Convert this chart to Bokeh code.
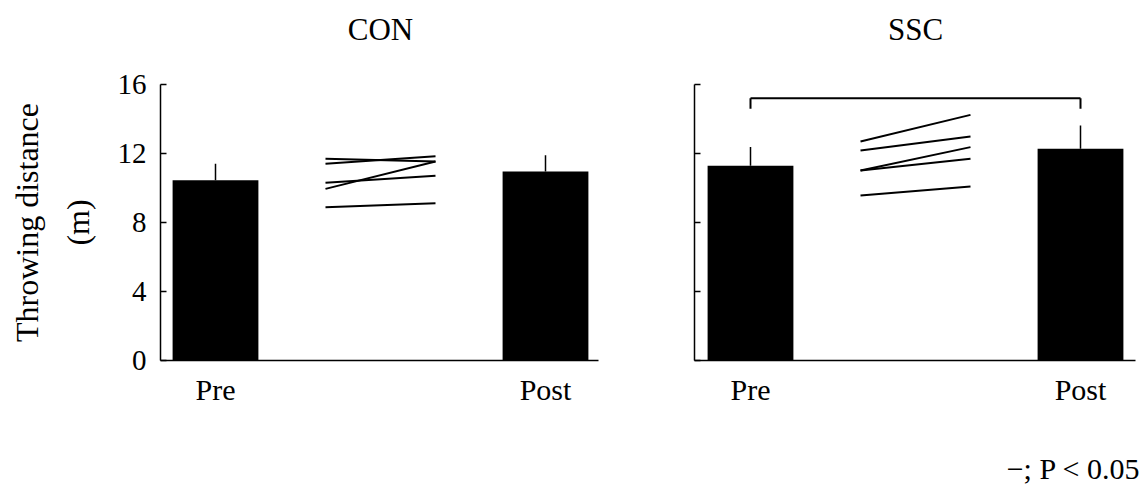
import math
from bokeh.plotting import figure
from bokeh.layouts import row
from bokeh.models import LinearAxis, FixedTicker, Label, Range1d
from bokeh.embed import file_html
from bokeh.resources import INLINE

# Throwing distance (m) before and after training, two groups
phases = ["Pre", "Post"]
groups = ["CON", "SSC"]

# individual subjects (pre -> post)
con_pre = [11.69, 11.40, 10.30, 9.95, 8.89]
con_post = [11.54, 11.84, 10.71, 11.54, 9.12]
ssc_pre = [12.70, 12.17, 11.01, 11.01, 9.57]
ssc_post = [14.24, 12.99, 12.37, 11.69, 10.09]

# group means and SD
con_mean = [10.45, 10.95]
con_sd = [0.95, 0.95]
ssc_mean = [11.29, 12.28]
ssc_sd = [1.08, 1.34]

y_ticks = [0, 4, 8, 12, 16]
y_caption = ["Throwing distance", "(m)"]
sig_note = "\u2212; P < 0.05"

FONT = "Liberation Serif"
INK = "black"
H = 491
PX_X = 330.0     # pixels per phase step
PX_Y = 17.25     # pixels per metre
BASE_PX = 360    # pixel row of y = 0


def text(p, s, x, y, size, align="center", angle=0.0):
    p.add_layout(Label(x=x, y=y, text=s, text_font=FONT, text_font_size=size,
                       text_color=INK, text_align=align,
                       text_baseline="middle", angle=angle))


def make_panel(name, mean, sd, pre, post, width, pre_px, axis_x, axis_end,
               tick_labels, significant):
    # the frame fills the whole figure; axes sit at fixed data positions
    p = figure(width=width, height=H,
               x_range=Range1d(-pre_px / PX_X, (width - pre_px) / PX_X),
               y_range=Range1d(-(H - BASE_PX) / PX_Y, BASE_PX / PX_Y),
               min_border=0,
               x_axis_type=None, y_axis_type=None,
               toolbar_location=None, output_backend="svg")
    p.outline_line_color = None
    p.background_fill_color = "white"
    p.border_fill_color = "white"

    xs = [0, 1]
    # bars
    p.vbar(x=xs, top=mean, width=0.26, fill_color=INK, line_color=None)
    # upward SD lines
    p.segment(x0=xs, y0=mean, x1=xs, y1=[m + s for m, s in zip(mean, sd)],
              line_color=INK, line_width=1.5)
    # individual changes
    p.segment(x0=[1 / 3] * len(pre), y0=pre, x1=[2 / 3] * len(post), y1=post,
              line_color=INK, line_width=2)

    if significant:
        top = 15.2
        drop = 14.6
        p.segment(x0=[0, 0, 1], y0=[drop, top, top], x1=[0, 1, 1], y1=[top, top, drop],
                  line_color=INK, line_width=2)

    # y axis
    yax = LinearAxis(ticker=FixedTicker(ticks=y_ticks), fixed_location=axis_x,
                     bounds=(0, 16))
    yax.major_tick_in = 6
    yax.major_tick_out = 0
    yax.minor_tick_line_color = None
    yax.axis_line_width = 1.5
    yax.axis_line_color = INK
    yax.major_tick_line_width = 1.5
    yax.major_tick_line_color = INK
    yax.major_label_standoff = 14
    yax.major_label_text_font = FONT
    yax.major_label_text_font_size = "29px"
    yax.major_label_text_color = INK
    if not tick_labels:
        yax.major_label_overrides = {t: "" for t in y_ticks}
    p.add_layout(yax, "left")

    # x axis along y = 0
    xax = LinearAxis(ticker=FixedTicker(ticks=xs), fixed_location=0,
                     bounds=(axis_x, axis_end))
    xax.major_label_overrides = {i: ph for i, ph in enumerate(phases)}
    xax.major_tick_line_color = None
    xax.minor_tick_line_color = None
    xax.axis_line_width = 1.5
    xax.axis_line_color = INK
    xax.major_label_standoff = 6
    xax.major_label_text_font = FONT
    xax.major_label_text_font_size = "30px"
    xax.major_label_text_color = INK
    p.add_layout(xax, "below")

    # group name above the panel
    text(p, name, 0.5, 19.19, "31px")
    return p


left = make_panel(groups[0], con_mean, con_sd, con_pre, con_post,
                  660, 215, -1 / 6, 1.16, True, False)
right = make_panel(groups[1], ssc_mean, ssc_sd, ssc_pre, ssc_post,
                   486, 90, -0.17, 1.167, False, True)

# y axis caption, two rotated lines left of the tick labels
text(left, y_caption[0], -0.5727, 8, "32px", angle=math.pi / 2)
text(left, y_caption[1], -0.4152, 8, "32px", angle=math.pi / 2)

# significance key under the right panel
text(right, sig_note, 1.182, -6.26, "30px", align="right")

layout = row(left, right)
open("out.html", "w").write(file_html(layout, INLINE))
